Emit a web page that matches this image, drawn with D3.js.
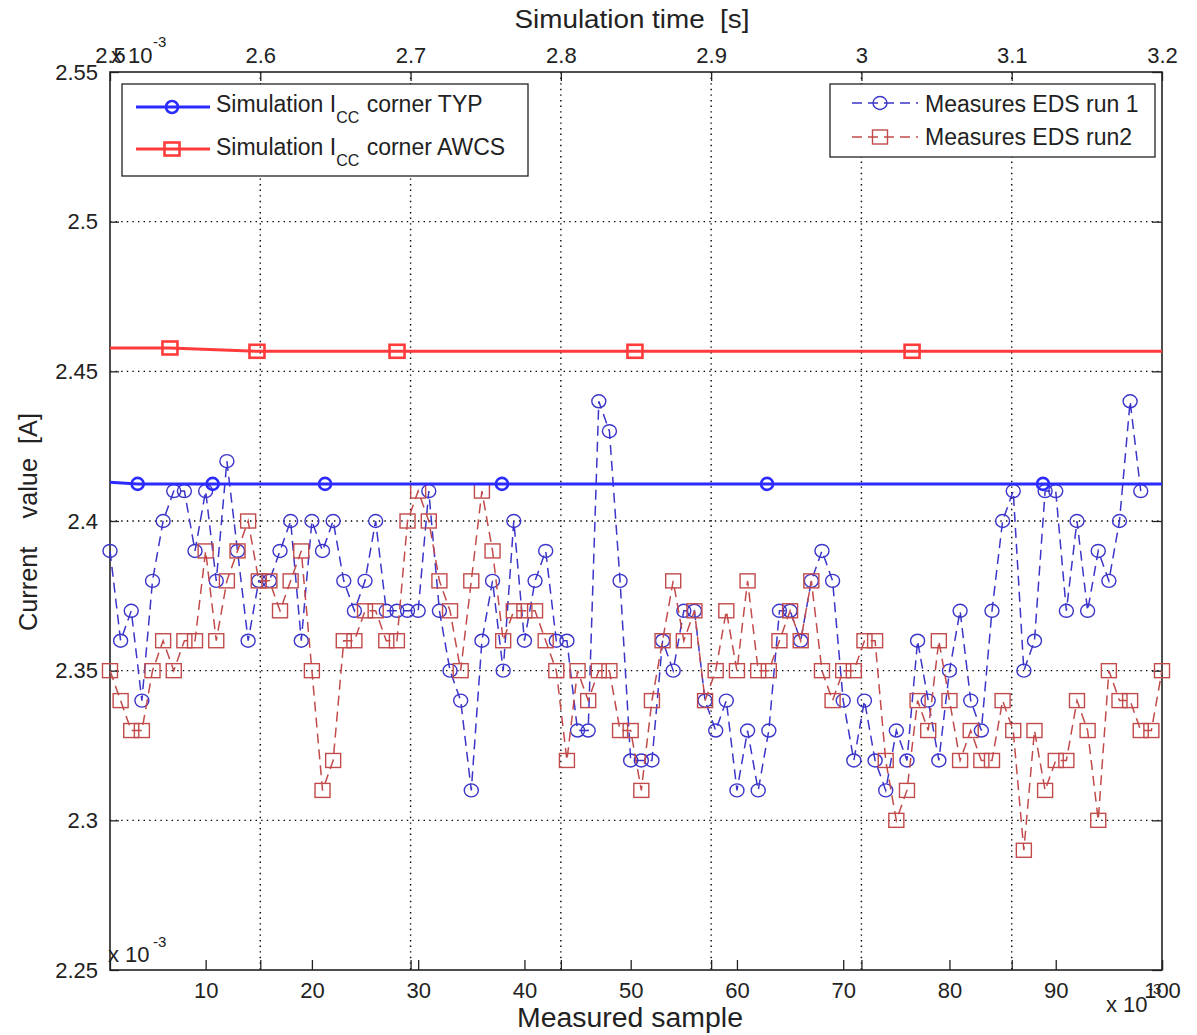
<!DOCTYPE html>
<html><head><meta charset="utf-8">
<script src="https://cdn.jsdelivr.net/npm/d3@7"></script>
<style>
body{margin:0;background:#fff;}
svg text{font-family:"Liberation Sans",Arial,Helvetica,sans-serif;fill:#222;white-space:pre;}
</style></head><body>
<svg id="c" width="1197" height="1035"></svg>
<script>
// ---------- data ----------
const run1Values = [2.39,2.36,2.37,2.34,2.38,2.40,2.41,2.41,2.39,2.41,
  2.38,2.42,2.39,2.36,2.38,2.38,2.39,2.40,2.36,2.40,
  2.39,2.40,2.38,2.37,2.38,2.40,2.37,2.37,2.37,2.37,
  2.41,2.37,2.35,2.34,2.31,2.36,2.38,2.35,2.40,2.36,
  2.38,2.39,2.36,2.36,2.33,2.33,2.44,2.43,2.38,2.32,
  2.32,2.32,2.36,2.35,2.37,2.37,2.34,2.33,2.34,2.31,
  2.33,2.31,2.33,2.37,2.37,2.36,2.38,2.39,2.38,2.34,
  2.32,2.34,2.32,2.31,2.33,2.32,2.36,2.34,2.32,2.35,
  2.37,2.34,2.33,2.37,2.40,2.41,2.35,2.36,2.41,2.41,
  2.37,2.40,2.37,2.39,2.38,2.40,2.44,2.41];
const run2Values = [2.35,2.34,2.33,2.33,2.35,2.36,2.35,2.36,2.36,2.39,
  2.36,2.38,2.39,2.40,2.38,2.38,2.37,2.38,2.39,2.35,
  2.31,2.32,2.36,2.36,2.37,2.37,2.36,2.36,2.40,2.41,
  2.40,2.38,2.37,2.35,2.38,2.41,2.39,2.36,2.37,2.37,
  2.37,2.36,2.35,2.32,2.35,2.34,2.35,2.35,2.33,2.33,
  2.31,2.34,2.36,2.38,2.36,2.37,2.34,2.35,2.37,2.35,
  2.38,2.35,2.35,2.36,2.37,2.36,2.38,2.35,2.34,2.35,
  2.35,2.36,2.36,2.32,2.30,2.31,2.34,2.33,2.36,2.34,
  2.32,2.33,2.32,2.32,2.34,2.33,2.29,2.33,2.31,2.32,
  2.32,2.34,2.33,2.30,2.35,2.34,2.34,2.33,2.33,2.35];
const run1Samples = run1Values.map((v,i)=>i+1);
const run2Samples = run2Values.map((v,i)=>i+1);

const simTypTime   = [2.49, 2.5184, 2.5683, 2.6431, 2.7608, 2.9372, 3.1208, 3.25];
const simTypValue  = [2.4133, 2.4124, 2.4124, 2.4124, 2.4124, 2.4124, 2.4124, 2.4124];
const simAwcsTime  = [2.49, 2.5399, 2.5978, 2.6910, 2.8493, 3.0337, 3.25];
const simAwcsValue = [2.4578, 2.4578, 2.4567, 2.4567, 2.4567, 2.4567, 2.4567];

const yTicks = [2.25,2.3,2.35,2.4,2.45,2.5,2.55];
const yTickLabels = ["2.25","2.3","2.35","2.4","2.45","2.5","2.55"];
const yGrid = [2.3,2.35,2.4,2.45,2.5];
const sampleTicks = [10,20,30,40,50,60,70,80,90,100];
const sampleTickLabels = ["10","20","30","40","50","60","70","80","90","100"];
const timeTicks = [2.5,2.6,2.7,2.8,2.9,3.0,3.1,3.2];
const timeTickLabels = ["2.5","2.6","2.7","2.8","2.9","3","3.1","3.2"];
const timeGrid = [2.6,2.7,2.8,2.9,3.0,3.1];

const legendSim = ["corner TYP","corner AWCS"];
const legendMeas = ["Measures EDS run 1","Measures EDS run2"];

// ---------- colours ----------
const cTyp="#2b2bff", cAwcs="#ff3b3b", cRun1="#3b35c9", cRun2="#c24a4a", ink="#222";

// ---------- layout ----------
const W=1197,H=1035, L=110,R=1162,T=72,B=970;
const svg=d3.select("#c");
svg.append("rect").attr("width",W).attr("height",H).attr("fill","#fff");
const x=d3.scaleLinear().domain([1,100]).range([L,R]);
const xt=d3.scaleLinear().domain([2.5,3.2]).range([L,R]);
const y=d3.scaleLinear().domain([2.25,2.55]).range([B,T]);

svg.append("defs").append("clipPath").attr("id","clip")
  .append("rect").attr("x",L).attr("y",T).attr("width",R-L).attr("height",B-T);

// grid
const grid=svg.append("g").attr("stroke","#000").attr("stroke-width",1.4).attr("stroke-dasharray","1.4,4.2");
grid.selectAll("line.h").data(yGrid).join("line").attr("class","h")
  .attr("x1",L).attr("x2",R).attr("y1",d=>y(d)).attr("y2",d=>y(d));
grid.selectAll("line.v").data(timeGrid).join("line").attr("class","v")
  .attr("x1",d=>xt(d)).attr("x2",d=>xt(d)).attr("y1",T).attr("y2",B);

function styleAxis(g){
  g.select(".domain").remove();
  g.selectAll("line").attr("stroke",ink).attr("stroke-width",1.3);
  g.selectAll("text").attr("fill",ink).style("font-size","22px")
   .style("font-family","'Liberation Sans',Arial,sans-serif");
}
svg.append("g").attr("transform",`translate(${L},0)`)
  .call(d3.axisLeft(y).tickValues(yTicks).tickFormat((d,i)=>yTickLabels[i]).tickSizeInner(-9).tickSizeOuter(0).tickPadding(12))
  .call(styleAxis);
svg.append("g").attr("transform",`translate(${R},0)`)
  .call(d3.axisRight(y).tickValues(yTicks).tickFormat("").tickSizeInner(-10).tickSizeOuter(0))
  .call(styleAxis);
svg.append("g").attr("transform",`translate(0,${B})`)
  .call(d3.axisBottom(x).tickValues(sampleTicks).tickFormat((d,i)=>sampleTickLabels[i]).tickSizeInner(-10).tickSizeOuter(0).tickPadding(12))
  .call(styleAxis);
svg.append("g").attr("transform",`translate(0,${B})`)
  .call(d3.axisBottom(xt).tickValues(timeTicks).tickFormat("").tickSizeInner(-10).tickSizeOuter(0))
  .call(styleAxis);
svg.append("g").attr("transform",`translate(0,${T})`)
  .call(d3.axisTop(xt).tickValues(timeTicks).tickFormat((d,i)=>timeTickLabels[i]).tickSizeInner(-9).tickSizeOuter(0).tickPadding(9))
  .call(styleAxis);

// box
svg.append("rect").attr("x",L).attr("y",T).attr("width",R-L).attr("height",B-T)
  .attr("fill","none").attr("stroke",ink).attr("stroke-width",1.6);

// ---------- measured series ----------
function measured(samples, vals, color, marker){
  const pts=samples.map((s,i)=>[x(s),y(vals[i])]);
  svg.append("path").attr("d",d3.line()(pts)).attr("fill","none").attr("stroke",color)
    .attr("stroke-width",1.5).attr("stroke-dasharray","10,6");
  const g=svg.append("g").attr("fill","none").attr("stroke",color).attr("stroke-width",1.4);
  if(marker==="o"){
    g.selectAll("ellipse").data(pts).join("ellipse").attr("cx",d=>d[0]).attr("cy",d=>d[1]).attr("rx",7).attr("ry",6.5);
  } else {
    g.selectAll("rect").data(pts).join("rect").attr("x",d=>d[0]-7.5).attr("y",d=>d[1]-7).attr("width",15).attr("height",14);
  }
}
measured(run1Samples, run1Values, cRun1, "o");
measured(run2Samples, run2Values, cRun2, "s");

// ---------- simulation series ----------
function sim(times, vals, color, marker){
  const pts=times.map((t,i)=>[xt(t),y(vals[i])]);
  const g=svg.append("g").attr("clip-path","url(#clip)");
  g.append("path").attr("d",d3.line()(pts)).attr("fill","none").attr("stroke",color).attr("stroke-width",3);
  const m=g.append("g").attr("fill","none").attr("stroke",color).attr("stroke-width",2.6);
  if(marker==="o"){
    m.selectAll("circle").data(pts).join("circle").attr("cx",d=>d[0]).attr("cy",d=>d[1]).attr("r",6);
  } else {
    m.selectAll("rect").data(pts).join("rect").attr("x",d=>d[0]-7.5).attr("y",d=>d[1]-6.5).attr("width",15).attr("height",13);
  }
}
sim(simTypTime, simTypValue, cTyp, "o");
sim(simAwcsTime, simAwcsValue, cAwcs, "s");

// ---------- texts ----------
function label(x0,y0,str,size,opts={}){
  const t=svg.append("text").attr("x",x0).attr("y",y0).style("font-size",size+"px").text(str);
  if(opts.anchor) t.attr("text-anchor",opts.anchor);
  if(opts.len) t.attr("textLength",opts.len).attr("lengthAdjust","spacingAndGlyphs");
  if(opts.transform) t.attr("transform",opts.transform);
  return t;
}
label(632,28,"Simulation time  [s]",26,{anchor:"middle",len:235});
label(630,1027,"Measured sample",27,{anchor:"middle",len:226});
label(0,0,"Current    value  [A]",26,{anchor:"middle",len:218,transform:"translate(37,522) rotate(-90)"});

// multipliers
label(111,63,"x 10",22); label(153,47,"-3",15);
label(108,962,"x 10",22); label(153,947,"-3",15);
label(1106,1012,"x 10",22); label(1148,994,"-3",15);

// ---------- legend 1 ----------
const lg1=svg.append("g");
lg1.append("rect").attr("x",122).attr("y",84).attr("width",406).attr("height",92)
  .attr("fill","#fff").attr("stroke",ink).attr("stroke-width",1.3);
[[cTyp,"o",107,112],[cAwcs,"s",149,155]].forEach((r,i)=>{
  const [col,mk,ly,by]=r;
  lg1.append("line").attr("x1",136).attr("x2",210).attr("y1",ly).attr("y2",ly).attr("stroke",col).attr("stroke-width",3);
  if(mk==="o") lg1.append("circle").attr("cx",172).attr("cy",ly).attr("r",6).attr("fill","none").attr("stroke",col).attr("stroke-width",2.6);
  else lg1.append("rect").attr("x",164.5).attr("y",ly-6.5).attr("width",15).attr("height",13).attr("fill","none").attr("stroke",col).attr("stroke-width",2.6);
  const t=lg1.append("text").attr("x",216).attr("y",by).style("font-size","23px");
  t.append("tspan").text("Simulation I");
  t.append("tspan").attr("dy",11).style("font-size","16px").text("CC");
  t.append("tspan").attr("dy",-11).attr("dx",1).text(" "+legendSim[i]);
});

// ---------- legend 2 ----------
const lg2=svg.append("g");
lg2.append("rect").attr("x",830).attr("y",84).attr("width",325).attr("height",73)
  .attr("fill","#fff").attr("stroke",ink).attr("stroke-width",1.3);
[[cRun1,"o",103,112],[cRun2,"s",137,145]].forEach((r,i)=>{
  const [col,mk,ly,by]=r;
  lg2.append("line").attr("x1",852).attr("x2",918).attr("y1",ly).attr("y2",ly).attr("stroke",col).attr("stroke-width",1.5).attr("stroke-dasharray","10,6");
  if(mk==="o") lg2.append("ellipse").attr("cx",880).attr("cy",ly).attr("rx",7).attr("ry",6.5).attr("fill","none").attr("stroke",col).attr("stroke-width",1.4);
  else lg2.append("rect").attr("x",872.5).attr("y",ly-7).attr("width",15).attr("height",14).attr("fill","none").attr("stroke",col).attr("stroke-width",1.4);
  lg2.append("text").attr("x",925).attr("y",by).style("font-size","23px").text(legendMeas[i]);
});
</script>
</body></html>
